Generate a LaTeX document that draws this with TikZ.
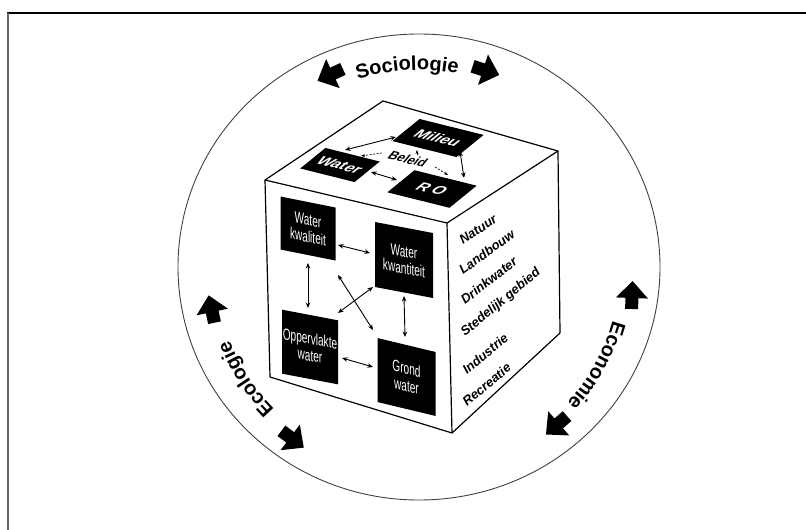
\documentclass[tikz,border=0pt]{standalone}
\usepackage{fontspec}
\setmainfont{Liberation Sans}
\newfontfamily\condfont[FakeStretch=0.63]{Liberation Sans}
\newfontfamily\widefont[FakeStretch=1.2]{Liberation Sans}
\usetikzlibrary{decorations.text,arrows.meta}
\begin{document}
\begin{tikzpicture}[x=1pt,y=1pt,
  dbl/.style={{Stealth[length=5.5pt,width=4.5pt]}-{Stealth[length=5.5pt,width=4.5pt]}, line width=0.9pt},
  dsh/.style={-{Stealth[length=4pt,width=3pt]}, line width=0.7pt, dash pattern=on 2pt off 1.5pt},
  topbox/.style={fill=black, text=white, font=\widefont\bfseries\fontsize{13}{13}\selectfont, rotate=-14, xslant=0.75, inner sep=0pt},
  beleidtext/.style={font=\bfseries\fontsize{12.5}{12.5}\selectfont, rotate=-13, xslant=0.5, inner sep=0pt},
  frontbox/.style={fill=black, text=white, font=\condfont\fontsize{16}{17}\selectfont, align=center, inner sep=0pt},
  sidetext/.style={font=\bfseries\itshape\fontsize{13}{13}\selectfont, anchor=base west, inner sep=0pt},
  cubeedge/.style={line width=1.2pt, line join=round},
  bigarr/.pic={\fill[black] (16,0) -- (-1,16) -- (-1,6.5) -- (-12,6.5) -- (-12,-6.5) -- (-1,-6.5) -- (-1,-16) -- cycle;},
  ringlabel/.style={decorate, decoration={text along path, text align=center, text={|\bfseries\fontsize{20}{20}\selectfont|#1}}}]
\useasboundingbox (0,0) rectangle (806,-530);
% frame
\draw[line width=2.5pt] (7,-13) -- (806,-13);
\draw[line width=2pt, black!60] (8,-13) -- (8,-530);
% ring
\draw[line width=0.9pt, black!75] (419,-267) ellipse [x radius=241, y radius=233];
\path[ringlabel=Sociologie] (419,-267) ++(123.4:197) arc[start angle=123.4, end angle=63.4, radius=197];
\path[ringlabel=Ecologie] (419,-267) ++(242.8:203) arc[start angle=242.8, end angle=182.8, radius=203];
\path[ringlabel=Economie] (419,-267) ++(1:201) arc[start angle=1, end angle=-59, radius=201];
% big arrows
\pic[rotate=205] at (332,-74) {bigarr};
\pic[rotate=-18] at (484,-70) {bigarr};
\pic[rotate=88] at (632,-297) {bigarr};
\pic[rotate=221] at (558,-424) {bigarr};
\pic[rotate=102] at (212,-311) {bigarr};
\pic[rotate=-37] at (291,-438) {bigarr};
% cube
\draw[cubeedge] (265,-180) -- (447,-223) -- (452,-433) -- (270,-377) -- cycle;
\draw[cubeedge] (265,-180) -- (383,-101) -- (558,-151) -- (447,-223);
\draw[cubeedge] (558,-151) -- (560,-333) -- (452,-433);
% top face
\node[topbox, minimum width=56pt, minimum height=26pt] (water) at (340,-165) {Water};
\node[topbox, minimum width=66pt, minimum height=28pt] (milieu) at (438,-138) {Milieu};
\node[topbox, minimum width=64pt, minimum height=28pt] (ro) at (432,-189) {R O};
\node[beleidtext] (beleid) at (408,-159) {Beleid};
\draw[dbl] ([shift={(5,15)}]water.center) -- ([shift={(-42,1)}]milieu.center);
\draw[dbl] ([shift={(22,-13)}]milieu.center) -- ([shift={(32,11)}]ro.center);
\draw[dbl] ([shift={(31,-7)}]water.center) -- ([shift={(-35,9)}]ro.center);
\draw[dsh] ([shift={(-26,6)}]beleid.center) -- ([shift={(21,9)}]water.center);
\draw[dsh] ([shift={(9,4)}]beleid.center) -- ([shift={(-21,-12)}]milieu.center);
\draw[dsh] ([shift={(27,-8)}]beleid.center) -- ([shift={(16,14)}]ro.center);
% front face
\node[frontbox, yslant=-0.2, minimum width=55pt, minimum height=53pt] (wkal) at (308,-228.5) {Water\\kwaliteit};
\node[frontbox, yslant=-0.19, minimum width=58pt, minimum height=65pt] (wkan) at (404,-260) {Water\\kwantiteit};
\node[frontbox, yslant=-0.19, minimum width=56pt, minimum height=64pt] (opp) at (310,-347) {Oppervlakte\\water};
\node[frontbox, yslant=-0.24, minimum width=58pt, minimum height=64pt] (grond) at (406.5,-377) {Grond\\water};
\draw[dbl] ([shift={(30,-16.5)}]wkal.center) -- ([shift={(-34,7)}]wkan.center);
\draw[dbl] ([shift={(0,-34.5)}]wkal.center) -- ([shift={(-2,39)}]opp.center);
\draw[dbl] ([shift={(0,-36)}]wkan.center) -- ([shift={(-1.5,40)}]grond.center);
\draw[dbl] ([shift={(32,-11)}]opp.center) -- ([shift={(-33.5,10)}]grond.center);
\draw[dbl] ([shift={(30,-46.5)}]wkal.center) -- ([shift={(-33.5,47)}]grond.center);
\draw[dbl] ([shift={(28,34)}]opp.center) -- ([shift={(-31,-27)}]wkan.center);
% right face
\node[sidetext, rotate=34] (natuur) at (463,-245) {Natuur};
\node[sidetext, rotate=36] (landbouw) at (463,-275) {Landbouw};
\node[sidetext, rotate=38] (drink) at (465,-305) {Drinkwater};
\node[sidetext, rotate=40] (stedelijk) at (465,-337) {Stedelijk gebied};
\node[sidetext, rotate=40] (industrie) at (467,-375) {Industrie};
\node[sidetext, rotate=40] (recreatie) at (467,-407) {Recreatie};
\end{tikzpicture}
\end{document}
